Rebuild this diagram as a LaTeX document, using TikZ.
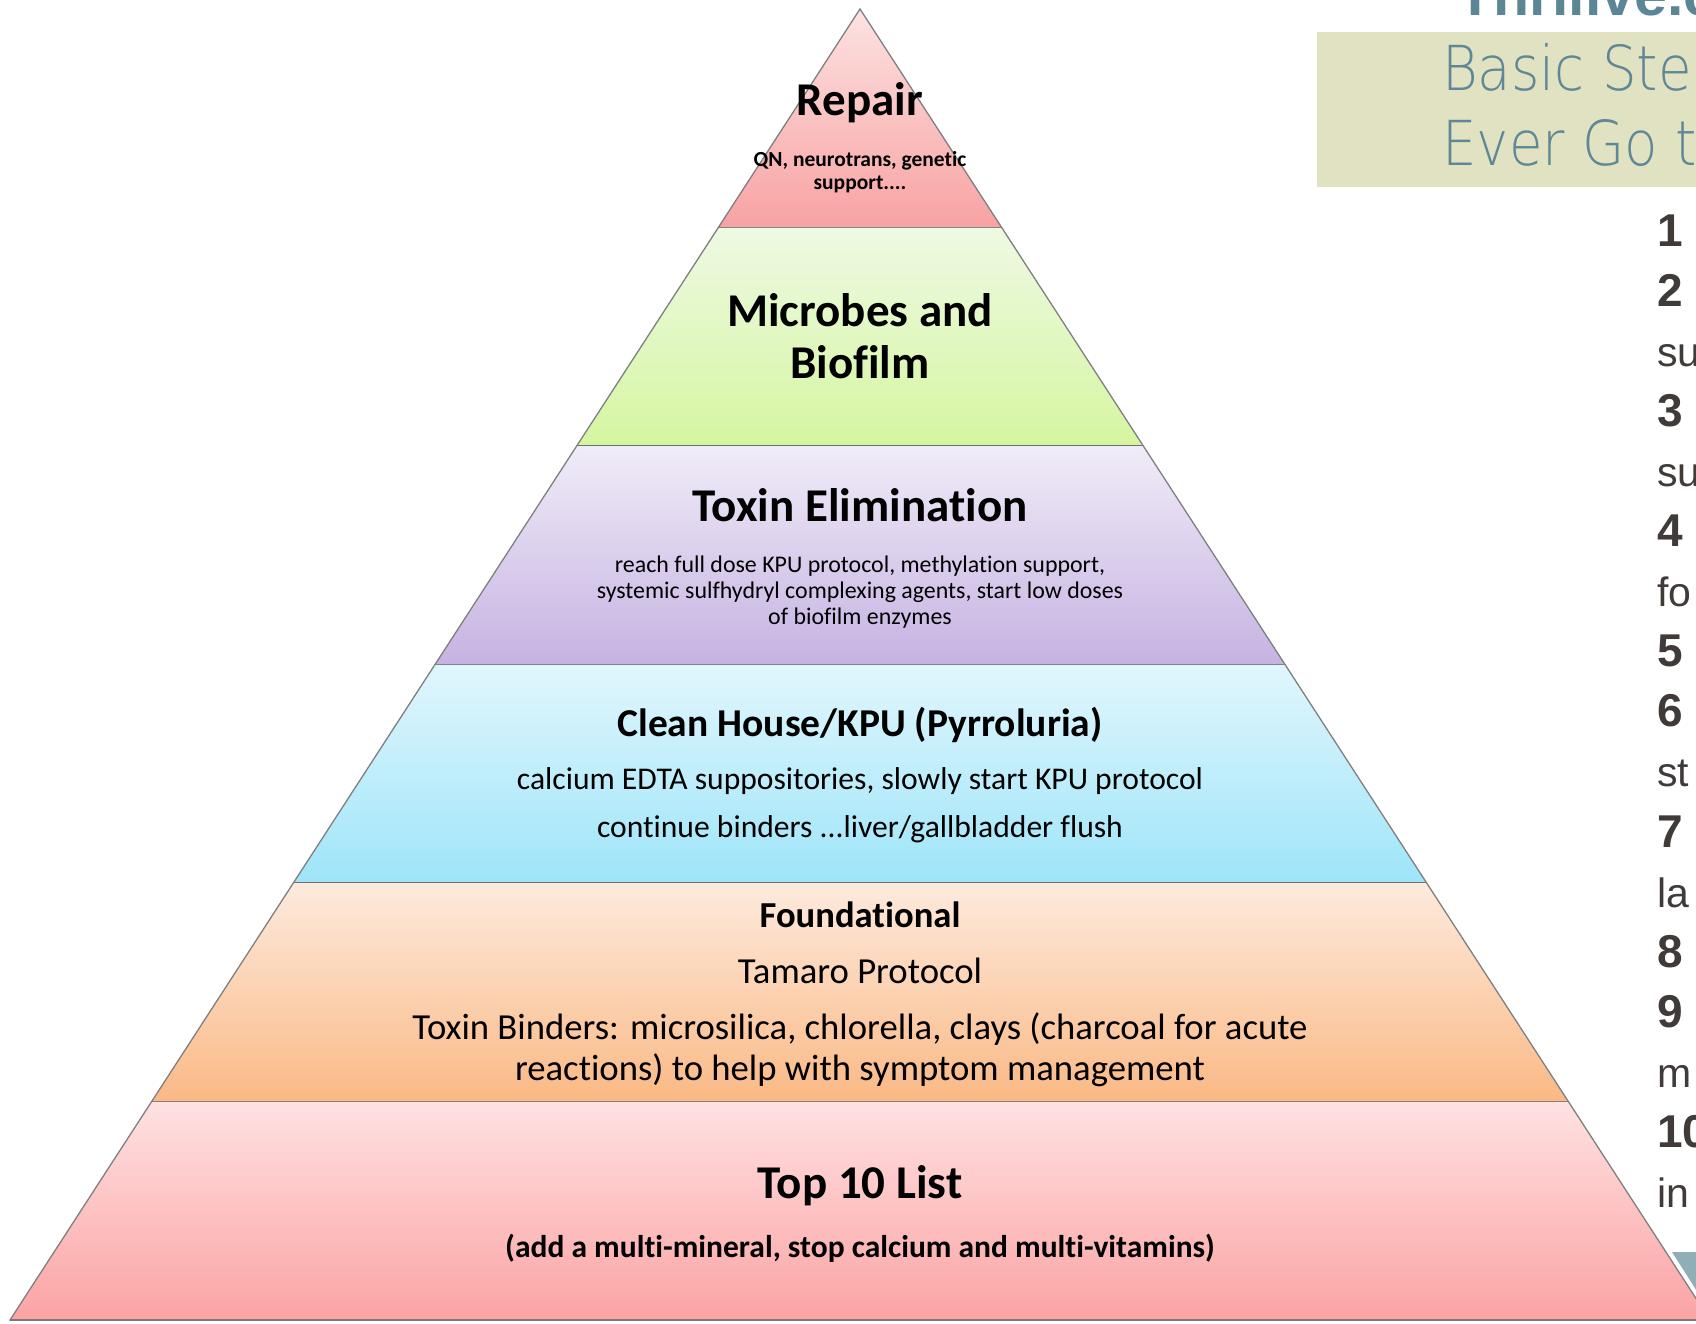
\documentclass[tikz,border=0pt]{standalone}
\usepackage{fontspec}
\setmainfont{Carlito}[Ligatures=NoCommon]
\newfontfamily\helvfont{Liberation Sans}
\newfontfamily\thinfont{DejaVu Sans ExtraLight}[FakeStretch=0.88]
\usepackage{tikz}
\usetikzlibrary{positioning,calc}
\definecolor{RepairTop}{HTML}{FDE2E2}
\definecolor{RepairBot}{HTML}{F8A2A2}
\definecolor{MicrobeTop}{HTML}{EEF9E3}
\definecolor{MicrobeBot}{HTML}{D5F6A0}
\definecolor{ToxinTop}{HTML}{F0ECF8}
\definecolor{ToxinBot}{HTML}{C6B2E2}
\definecolor{CleanTop}{HTML}{E1F6FD}
\definecolor{CleanBot}{HTML}{9EE5F9}
\definecolor{FoundTop}{HTML}{FDEADD}
\definecolor{FoundBot}{HTML}{FAB985}
\definecolor{BaseTop}{HTML}{FFE1E2}
\definecolor{BaseBot}{HTML}{FBA3A3}
\definecolor{EdgeGrey}{HTML}{808080}
\definecolor{SepGrey}{HTML}{707070}
\definecolor{Banner}{HTML}{E1E2C2}
\definecolor{BannerText}{HTML}{5F8897}
\definecolor{SiteTeal}{HTML}{5B8695}
\definecolor{ListGrey}{HTML}{403B39}
\definecolor{CornerTeal}{HTML}{90AEB5}

\begin{document}
\begin{tikzpicture}[x=1pt,y=-1pt,
  sep/.style={draw=SepGrey,line width=1.8pt},
  edge/.style={draw=EdgeGrey,line width=1.3pt,line join=miter},
  lbl/.style={inner sep=0pt,align=center,text=black},
  side/.style={inner sep=0pt,anchor=base west,text=ListGrey,
               font=\helvfont\fontsize{41}{46}\selectfont},
  num/.style={side,font=\helvfont\bfseries\fontsize{46}{50}\selectfont}]
\useasboundingbox (0,0) rectangle (1696,1323);
\clip (0,0) rectangle (1696,1323);

% slide behind the pyramid
\fill[Banner] (1317,32) rectangle (1700,187);
\fill[CornerTeal] (1672,1252) -- (1700,1252) -- (1700,1296) -- cycle;
\node[inner sep=0pt,anchor=base west,text=SiteTeal,
      font=\helvfont\bfseries\fontsize{59}{60}\selectfont] (site) at (1457,15.7) {Thrilive.c};
\node[inner sep=0pt,anchor=base west,text=BannerText,
      font=\thinfont\fontsize{62}{75}\selectfont] (head1) at (1442,90.7) {Basic Ste};
\node[inner sep=0pt,anchor=base west,text=BannerText,
      font=\thinfont\fontsize{62}{75}\selectfont] (head2) at (1442,165.7) {Ever Go to};
\foreach \t/\s [count=\k from 0] in {1/num,2/num,su/side,3/num,su/side,4/num,fo/side,
    5/num,6/num,st/side,7/num,la/side,8/num,9/num,m/side,10/num,in/side}
  \node[\s] (item\k) at (1657,{246+60.1*\k}) {\t};

% pyramid layers, top to bottom
\foreach \ctop/\cbot [count=\i from 0] in {RepairTop/RepairBot,MicrobeTop/MicrobeBot,
    ToxinTop/ToxinBot,CleanTop/CleanBot,FoundTop/FoundBot,BaseTop/BaseBot} {
  \pgfmathsetmacro\ya{9+218.5*\i}
  \pgfmathsetmacro\yb{\ya+218.5}
  \pgfmathsetmacro\wa{0.6483*(\ya-9)}
  \pgfmathsetmacro\wb{0.6483*(\yb-9)}
  \fill[top color=\ctop,bottom color=\cbot]
    ({860-\wa},\ya) -- ({860+\wa},\ya) -- ({860+\wb},\yb) -- ({860-\wb},\yb) -- cycle;
  \draw[sep] ({860-\wb},\yb) -- ({860+\wb},\yb);
}
\draw[edge] (860,9) -- (1710,1320) -- (10,1320) -- cycle;

% texts
\node[lbl,font=\bfseries\fontsize{47}{50}\selectfont] (repair) at (860,103) {Repair};
\node[lbl,font=\bfseries\fontsize{21.5}{23}\selectfont] (repairtxt) at (860,172)
  {QN, neurotrans, genetic\\support....};
\node[lbl,font=\bfseries\fontsize{47}{52}\selectfont] (microbes) at (860,336)
  {Microbes and\\Biofilm};
\node[lbl,font=\bfseries\fontsize{47}{50}\selectfont] (toxin) at (860,505) {Toxin Elimination};
\node[lbl,font=\fontsize{23.9}{26}\selectfont] (toxintxt) at (860,592)
  {reach full dose KPU protocol, methylation support,\\
   systemic sulfhydryl complexing agents, start low doses\\of biofilm enzymes};
\node[lbl,font=\bfseries\fontsize{39.5}{44}\selectfont] (clean) at (860,725)
  {Clean House/KPU (Pyrroluria)};
\node[lbl,font=\fontsize{31.6}{36}\selectfont] (cleantxt) at (860,781)
  {calcium EDTA suppositories, slowly start KPU protocol};
\node[lbl,font=\fontsize{31.6}{36}\selectfont] (binders) at (860,829)
  {continue binders ...liver/gallbladder flush};
\node[lbl,font=\bfseries\fontsize{36.6}{40}\selectfont] (found) at (860,915) {Foundational};
\node[lbl,font=\fontsize{36.7}{40}\selectfont] (tamaro) at (860,971) {Tamaro Protocol};
\node[lbl,font=\fontsize{36.7}{41}\selectfont] (toxbind) at (860,1050)
  {Toxin Binders: microsilica, chlorella, clays (charcoal for acute\\
   reactions) to help with symptom management};
\node[lbl,font=\bfseries\fontsize{47}{50}\selectfont] (top10) at (860,1186) {Top 10 List};
\node[lbl,font=\bfseries\fontsize{31.5}{34}\selectfont] (top10txt) at (860,1248)
  {(add a multi-mineral, stop calcium and multi-vitamins)};
\end{tikzpicture}
\end{document}
